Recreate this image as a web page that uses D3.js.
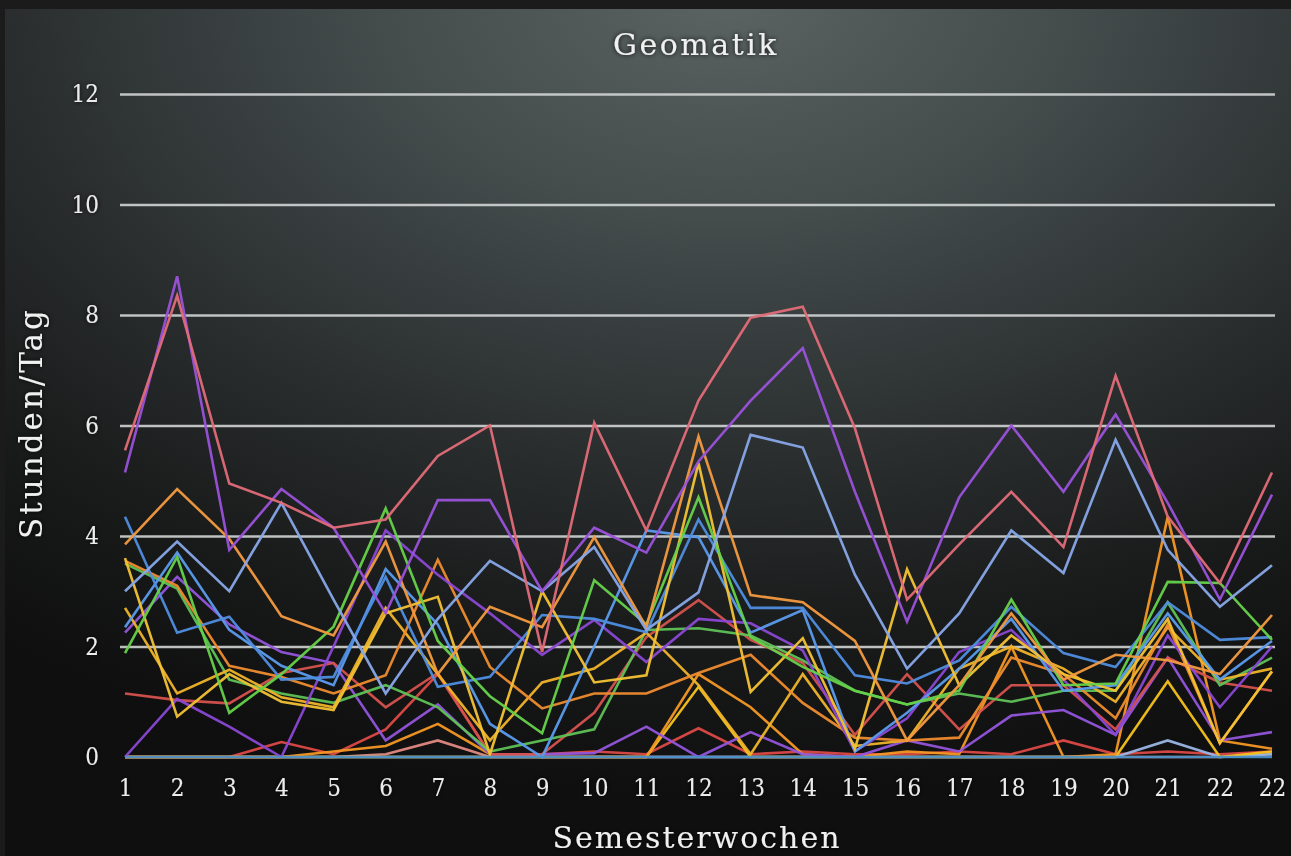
<!DOCTYPE html>
<html>
<head>
<meta charset="utf-8">
<script src="https://cdn.jsdelivr.net/npm/d3@7"></script>
<style>
  html, body { margin: 0; padding: 0; background: #161616; }
  svg { display: block; }
</style>
</head>
<body>
<div id="chart"></div>
<script>
// week labels (the last week appears twice on the original axis)
const weekLabels = ["1","2","3","4","5","6","7","8","9","10","11","12","13","14","15","16","17","18","19","20","21","22","22"];
const yTicks = [0, 2, 4, 6, 8, 10, 12];

// hours per day, one array per student
const pink       = [5.55, 8.35, 4.95, 4.6, 4.15, 4.3, 5.45, 6.0, 1.9, 6.05, 4.1, 6.45, 7.95, 8.15, 5.95, 2.85, 3.85, 4.8, 3.8, 6.9, 4.35, 3.15, 5.15];
const purpleTop  = [5.15, 8.7, 3.75, 4.85, 4.15, 2.6, 4.65, 4.65, 3.0, 4.15, 3.7, 5.35, 6.45, 7.4, 4.8, 2.45, 4.7, 6.0, 4.8, 6.2, 4.6, 2.85, 4.75];
const lightBlue  = [3.0, 3.9, 3.0, 4.6, 2.85, 1.15, 2.5, 3.55, 3.0, 3.8, 2.3, 2.98, 5.83, 5.6, 3.3, 1.6, 2.6, 4.1, 3.33, 5.74, 3.75, 2.72, 3.47];
const orangeA    = [3.85, 4.85, 3.95, 2.55, 2.2, 3.9, 1.5, 2.72, 2.35, 3.98, 2.35, 5.8, 2.93, 2.8, 2.1, 0.3, 1.3, 2.6, 1.4, 1.85, 1.75, 1.5, 2.57];
const orangeB    = [3.55, 3.1, 1.65, 1.45, 1.15, 1.48, 3.57, 1.63, 0.88, 1.15, 1.15, 1.52, 1.85, 0.98, 0.35, 0.3, 0.35, 1.8, 1.5, 0.7, 2.4, 0.25, 1.55];
const orangeC    = [0, 0, 0, 0, 0.1, 0.2, 0.6, 0.05, 0, 0, 0, 1.5, 0.9, 0.05, 0, 0.1, 0.05, 2.0, 0, 0.05, 4.35, 0.3, 0.15];
const yellowA    = [3.6, 0.73, 1.5, 1.0, 0.85, 2.6, 2.9, 0.05, 3.0, 1.35, 1.48, 5.32, 1.18, 2.15, 0.15, 3.4, 1.3, 2.2, 1.5, 1.2, 2.5, 0.25, 1.55];
const yellowB    = [2.7, 1.15, 1.58, 1.08, 0.9, 2.7, 1.5, 0.3, 1.35, 1.6, 2.25, 1.3, 0.05, 1.5, 0.2, 0.3, 1.6, 2.0, 1.6, 1.0, 2.35, 1.4, 1.6];
const yellowC    = [0, 0, 0, 0, 0, 0, 0, 0, 0, 0, 0, 1.27, 0, 0, 0, 0, 0, 0, 0, 0, 1.37, 0, 0.1];
const greenA     = [1.88, 3.62, 0.8, 1.5, 2.36, 4.5, 2.1, 1.1, 0.43, 3.2, 2.4, 4.7, 2.17, 1.63, 1.2, 0.95, 1.2, 2.85, 1.3, 1.33, 3.17, 3.15, 2.12];
const greenB     = [3.5, 3.05, 1.4, 1.15, 0.98, 1.3, 0.9, 0.1, 0.3, 0.5, 2.3, 2.33, 2.2, 1.75, 1.2, 0.95, 1.15, 1.0, 1.2, 1.2, 2.8, 1.3, 1.8];
const blueA      = [4.35, 2.25, 2.54, 1.4, 1.45, 3.26, 1.27, 1.45, 2.57, 2.5, 2.26, 4.3, 2.7, 2.7, 1.48, 1.33, 1.75, 2.72, 1.88, 1.63, 2.8, 2.12, 2.17];
const blueB      = [2.35, 3.7, 2.3, 1.65, 1.3, 3.4, 2.4, 0.6, 0.0, 2.0, 4.1, 3.98, 2.25, 2.66, 0.1, 0.8, 1.6, 2.5, 1.2, 1.3, 2.6, 1.4, 2.1];
const purpleB    = [0, 1.05, 0.55, 0, 2.0, 4.1, 3.3, 2.6, 1.85, 2.48, 1.72, 2.5, 2.42, 1.93, 0.1, 0.7, 1.9, 2.3, 1.4, 0.4, 2.2, 0.9, 2.0];
const purpleC    = [2.25, 3.26, 2.4, 1.9, 1.7, 0.3, 0.95, 0.05, 0.05, 0.07, 0.55, 0, 0.45, 0.05, 0, 0.3, 0.1, 0.75, 0.85, 0.4, 1.8, 0.3, 0.45];
const redA       = [1.15, 1.03, 0.97, 1.52, 1.7, 0.9, 1.52, 0.05, 0.05, 0.8, 2.17, 2.84, 2.12, 1.7, 0.4, 1.5, 0.5, 1.3, 1.3, 0.5, 1.8, 1.35, 1.2];
const redB       = [0, 0, 0, 0.27, 0.05, 0.5, 1.5, 0.05, 0.05, 0.1, 0.05, 0.52, 0.05, 0.1, 0.05, 0.05, 0.1, 0.05, 0.3, 0.05, 0.1, 0.05, 0.1];
const salmonLow  = [0, 0, 0, 0, 0, 0.05, 0.3, 0, 0, 0, 0, 0, 0, 0, 0, 0, 0, 0, 0, 0, 0, 0, 0.05];
const paleLow    = [0, 0, 0, 0, 0, 0, 0, 0, 0, 0, 0, 0, 0, 0, 0, 0, 0, 0, 0, 0, 0.3, 0, 0.05];
const baseline   = [0, 0, 0, 0, 0, 0, 0, 0, 0, 0, 0, 0, 0, 0, 0, 0, 0, 0, 0, 0, 0, 0, 0];

const series = [
  { values: salmonLow, color: "#e08a82" },
  { values: redB,      color: "#dc4a46" },
  { values: paleLow,   color: "#9ab6e6" },
  { values: yellowC,   color: "#f5c21c" },
  { values: orangeC,   color: "#f59824" },
  { values: purpleC,   color: "#9455dc" },
  { values: redA,      color: "#d6524e" },
  { values: greenB,    color: "#5ec256" },
  { values: yellowB,   color: "#f0b42a" },
  { values: orangeB,   color: "#ef8c2e" },
  { values: purpleB,   color: "#8a48d4" },
  { values: blueB,     color: "#5b9cee" },
  { values: blueA,     color: "#4f8ee0" },
  { values: yellowA,   color: "#f3c234" },
  { values: greenA,    color: "#66d24a" },
  { values: orangeA,   color: "#f39a40" },
  { values: lightBlue, color: "#88a8e8" },
  { values: purpleTop, color: "#9a52da" },
  { values: pink,      color: "#e26c78" },
  { values: baseline,  color: "#4a8fc6" }
];

const W = 1291, H = 856;
const svg = d3.select("#chart").append("svg").attr("width", W).attr("height", H);
const defs = svg.append("defs");

// dark backdrop, lighter towards the top centre
const bg = defs.append("radialGradient")
  .attr("id", "bg")
  .attr("cx", 0.56).attr("cy", -0.02).attr("r", 0.95);
bg.append("stop").attr("offset", "0%").attr("stop-color", "#5b6462");
bg.append("stop").attr("offset", "28%").attr("stop-color", "#444c4c");
bg.append("stop").attr("offset", "58%").attr("stop-color", "#2a2e2f");
bg.append("stop").attr("offset", "82%").attr("stop-color", "#181919");
bg.append("stop").attr("offset", "100%").attr("stop-color", "#0f0f0f");

const shadow = defs.append("filter").attr("id", "halo")
  .attr("x", "-20%").attr("y", "-20%").attr("width", "140%").attr("height", "140%");
shadow.append("feDropShadow").attr("dx", 0).attr("dy", 0).attr("stdDeviation", 2.5)
  .attr("flood-color", "#000").attr("flood-opacity", 0.9);

svg.append("rect").attr("width", W).attr("height", H).attr("fill", "#1b1b1b");
svg.append("rect").attr("x", 5).attr("y", 9).attr("width", W - 5).attr("height", H - 9).attr("fill", "url(#bg)");

const x = d3.scaleLinear().domain([0, weekLabels.length - 1]).range([125, 1272]);
const y = d3.scaleLinear().domain([0, 12]).range([757, 94]);

const font = "'DejaVu Serif', serif";
const tickFont = "'DejaVu Serif Condensed', 'DejaVu Serif', serif";

// grid lines (no line at zero)
svg.append("g")
  .attr("transform", "translate(120,0)")
  .call(d3.axisLeft(y).tickValues(yTicks.filter(d => d > 0)).tickSize(-(1275 - 120)).tickFormat(""))
  .call(g => g.select(".domain").remove())
  .call(g => g.selectAll(".tick line").attr("stroke", "#d2d4d4").attr("stroke-width", 2.5).attr("stroke-opacity", 0.9));

// y tick labels
svg.append("g")
  .attr("transform", "translate(99,0)")
  .call(d3.axisLeft(y).tickValues(yTicks).tickSize(0).tickPadding(0))
  .call(g => g.select(".domain").remove())
  .call(g => g.selectAll("text")
    .attr("fill", "#ececec").attr("font-family", tickFont).attr("font-size", 24)
    .attr("text-anchor", "end").attr("filter", "url(#halo)"));

// x tick labels
svg.append("g")
  .attr("transform", "translate(0,779)")
  .call(d3.axisBottom(x).tickValues(d3.range(weekLabels.length)).tickFormat(i => weekLabels[i]).tickSize(0).tickPadding(0))
  .call(g => g.select(".domain").remove())
  .call(g => g.selectAll("text")
    .attr("fill", "#ececec").attr("font-family", tickFont).attr("font-size", 24)
    .attr("filter", "url(#halo)"));

// lines
const line = d3.line().x((d, i) => x(i)).y(d => y(d));
svg.append("g").selectAll("path")
  .data(series)
  .enter()
  .append("path")
    .attr("d", d => line(d.values))
    .attr("fill", "none")
    .attr("stroke", d => d.color)
    .attr("stroke-width", 2.6)
    .attr("stroke-linejoin", "miter")
    .attr("stroke-opacity", 0.95);

// titles
svg.append("text")
  .attr("x", 696).attr("y", 55)
  .attr("text-anchor", "middle")
  .attr("fill", "#f0f0f0").attr("font-family", font).attr("font-size", 30)
  .attr("letter-spacing", 2.5)
  .attr("filter", "url(#halo)")
  .text("Geomatik");

svg.append("text")
  .attr("transform", "translate(42,423) rotate(-90)")
  .attr("text-anchor", "middle")
  .attr("fill", "#f0f0f0").attr("font-family", font).attr("font-size", 31)
  .attr("letter-spacing", 3)
  .attr("filter", "url(#halo)")
  .text("Stunden/Tag");

svg.append("text")
  .attr("x", 697).attr("y", 848)
  .attr("text-anchor", "middle")
  .attr("fill", "#f0f0f0").attr("font-family", font).attr("font-size", 30)
  .attr("letter-spacing", 2)
  .attr("filter", "url(#halo)")
  .text("Semesterwochen");
</script>
</body>
</html>
